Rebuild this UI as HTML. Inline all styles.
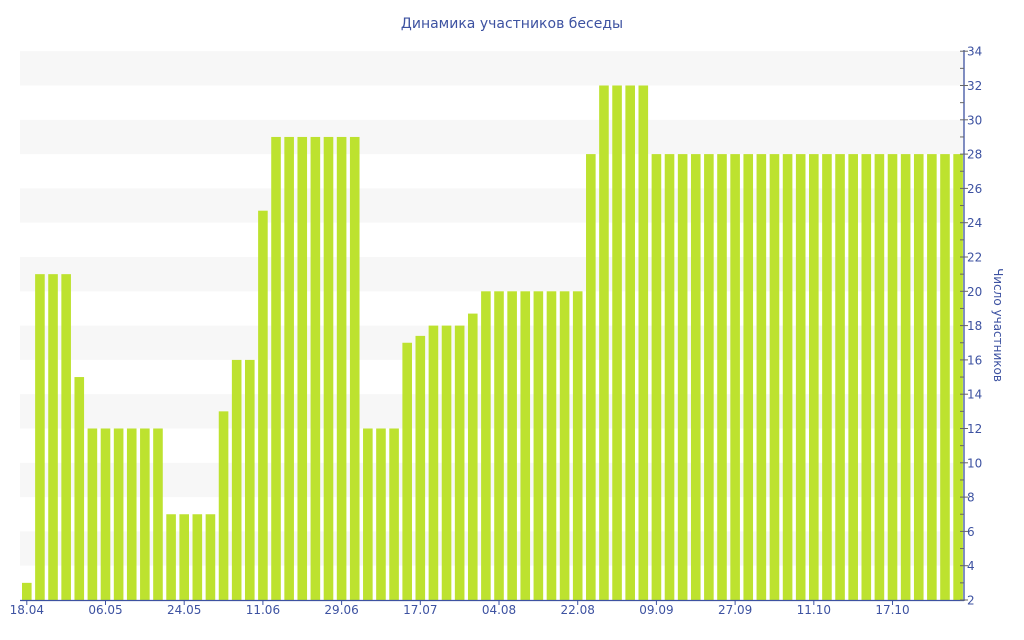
<!DOCTYPE html>
<html><head><meta charset="utf-8"><style>
html,body{margin:0;padding:0;background:#fff;}
svg{display:block;font-family:"DejaVu Sans","Liberation Sans",sans-serif;}
</style></head><body>
<svg id="c" width="1024" height="640" viewBox="0 0 1024 640" xmlns="http://www.w3.org/2000/svg">
<text x="512" y="28" text-anchor="middle" font-size="14" fill="#3d52a1">Динамика участников беседы</text>
<g id="bands"></g>
<g id="bars"></g>
<g id="axes"></g>
<text transform="translate(994,325) rotate(90)" text-anchor="middle" font-size="12" fill="#3d52a1">Число участников</text>
</svg>
<script>
var NS="http://www.w3.org/2000/svg";
function el(p,t,a,txt){var e=document.createElementNS(NS,t);for(var k in a)e.setAttribute(k,a[k]);if(txt!=null)e.textContent=txt;document.getElementById(p).appendChild(e);}
var y0=600,u=17.15,L=20,R=964;
function Y(v){return y0-(v-2)*u;}
for(var v=4;v<34;v+=4){el("bands","rect",{x:L,y:Y(v+2),width:R-L,height:2*u,fill:"#f7f7f7"});}
var vals=[3,21,21,21,15,12,12,12,12,12,12,7,7,7,7,13,16,16,24.7,29,29,29,29,29,29,29,12,12,12,17,17.4,18,18,18,18.7,20,20,20,20,20,20,20,20,28,32,32,32,32];
while(vals.length<72)vals.push(28);
var p=13.117,w=9.6;
vals.forEach(function(v,i){var x=22+i*p;el("bars","rect",{x:x.toFixed(2),y:Y(v).toFixed(2),width:w,height:(y0-Y(v)).toFixed(2),fill:"#bde22f"});});
el("axes","line",{x1:L,y1:600.5,x2:R,y2:600.5,stroke:"#3d52a1","stroke-width":1.3});
el("axes","line",{x1:R,y1:50,x2:R,y2:601,stroke:"#3d52a1","stroke-width":1.3});
for(var v=2;v<=34;v++){var y=Y(v);el("axes","line",{x1:R-4,y1:y,x2:(v%2==0?R+4:R),y2:y,stroke:"#666","stroke-width":1});
 if(v%2==0)el("axes","text",{x:R+3,y:y+4.5,"font-size":12,fill:"#3d52a1"},String(v));}
var labs=["18.04","06.05","24.05","11.06","29.06","17.07","04.08","22.08","09.09","27.09","11.10","17.10"];
var idx=[0,6,12,18,24,30,36,42,48,54,60,66];
labs.forEach(function(t,k){var x=22+idx[k]*p+w/2;el("axes","line",{x1:x,y1:600,x2:x,y2:605,stroke:"#3d52a1"});el("axes","text",{x:x,y:614,"text-anchor":"middle","font-size":12,fill:"#3d52a1"},t);});
</script>
</body></html>
